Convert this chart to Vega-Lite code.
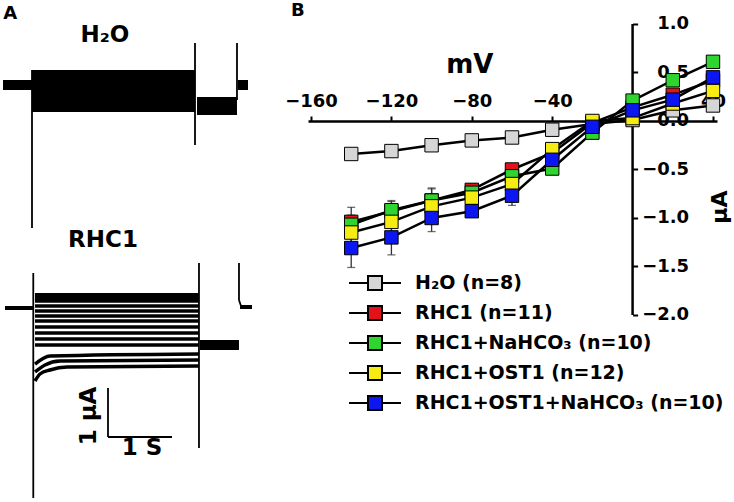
{
  "$schema": "https://vega.github.io/schema/vega-lite/v6.json",
  "padding": 0,
  "autosize": {"type": "pad"},
  "bounds": "flush",
  "spacing": 48,
  "background": "white",
  "config": {
    "view": {"stroke": null},
    "font": "DejaVu Sans",
    "text": {"font": "DejaVu Sans", "fontWeight": "bold", "color": "black", "fill": "black"}
  },
  "datasets": {
    "iv": [
      {"mV": -140, "I": -0.34, "se": 0.0, "s": "H₂O (n=8)", "k": 1},
      {"mV": -120, "I": -0.31, "se": 0.0, "s": "H₂O (n=8)", "k": 1},
      {"mV": -100, "I": -0.25, "se": 0.0, "s": "H₂O (n=8)", "k": 1},
      {"mV": -80, "I": -0.2, "se": 0.0, "s": "H₂O (n=8)", "k": 1},
      {"mV": -60, "I": -0.17, "se": 0.0, "s": "H₂O (n=8)", "k": 1},
      {"mV": -40, "I": -0.09, "se": 0.0, "s": "H₂O (n=8)", "k": 1},
      {"mV": -20, "I": -0.03, "se": 0.0, "s": "H₂O (n=8)", "k": 1},
      {"mV": 0, "I": 0.01, "se": 0.0, "s": "H₂O (n=8)", "k": 1},
      {"mV": 20, "I": 0.11, "se": 0.02, "s": "H₂O (n=8)", "k": 1},
      {"mV": 40, "I": 0.16, "se": 0.02, "s": "H₂O (n=8)", "k": 1},
      {"mV": -140, "I": -1.04, "se": 0.15, "s": "RHC1 (n=11)", "k": 2},
      {"mV": -120, "I": -0.93, "se": 0.1, "s": "RHC1 (n=11)", "k": 2},
      {"mV": -100, "I": -0.82, "se": 0.12, "s": "RHC1 (n=11)", "k": 2},
      {"mV": -80, "I": -0.71, "se": 0.06, "s": "RHC1 (n=11)", "k": 2},
      {"mV": -60, "I": -0.5, "se": 0.04, "s": "RHC1 (n=11)", "k": 2},
      {"mV": -40, "I": -0.33, "se": 0.04, "s": "RHC1 (n=11)", "k": 2},
      {"mV": -20, "I": -0.02, "se": 0.03, "s": "RHC1 (n=11)", "k": 2},
      {"mV": 0, "I": 0.14, "se": 0.03, "s": "RHC1 (n=11)", "k": 2},
      {"mV": 20, "I": 0.27, "se": 0.03, "s": "RHC1 (n=11)", "k": 2},
      {"mV": 40, "I": 0.42, "se": 0.04, "s": "RHC1 (n=11)", "k": 2},
      {"mV": -140, "I": -1.07, "se": 0.1, "s": "RHC1+NaHCO₃ (n=10)", "k": 3},
      {"mV": -120, "I": -0.92, "se": 0.1, "s": "RHC1+NaHCO₃ (n=10)", "k": 3},
      {"mV": -100, "I": -0.82, "se": 0.13, "s": "RHC1+NaHCO₃ (n=10)", "k": 3},
      {"mV": -80, "I": -0.74, "se": 0.07, "s": "RHC1+NaHCO₃ (n=10)", "k": 3},
      {"mV": -60, "I": -0.57, "se": 0.05, "s": "RHC1+NaHCO₃ (n=10)", "k": 3},
      {"mV": -40, "I": -0.49, "se": 0.04, "s": "RHC1+NaHCO₃ (n=10)", "k": 3},
      {"mV": -20, "I": -0.12, "se": 0.03, "s": "RHC1+NaHCO₃ (n=10)", "k": 3},
      {"mV": 0, "I": 0.21, "se": 0.03, "s": "RHC1+NaHCO₃ (n=10)", "k": 3},
      {"mV": 20, "I": 0.42, "se": 0.03, "s": "RHC1+NaHCO₃ (n=10)", "k": 3},
      {"mV": 40, "I": 0.61, "se": 0.04, "s": "RHC1+NaHCO₃ (n=10)", "k": 3},
      {"mV": -140, "I": -1.15, "se": 0.12, "s": "RHC1+OST1 (n=12)", "k": 4},
      {"mV": -120, "I": -1.04, "se": 0.1, "s": "RHC1+OST1 (n=12)", "k": 4},
      {"mV": -100, "I": -0.88, "se": 0.1, "s": "RHC1+OST1 (n=12)", "k": 4},
      {"mV": -80, "I": -0.79, "se": 0.07, "s": "RHC1+OST1 (n=12)", "k": 4},
      {"mV": -60, "I": -0.65, "se": 0.05, "s": "RHC1+OST1 (n=12)", "k": 4},
      {"mV": -40, "I": -0.29, "se": 0.05, "s": "RHC1+OST1 (n=12)", "k": 4},
      {"mV": -20, "I": 0.0, "se": 0.03, "s": "RHC1+OST1 (n=12)", "k": 4},
      {"mV": 0, "I": 0.03, "se": 0.03, "s": "RHC1+OST1 (n=12)", "k": 4},
      {"mV": 20, "I": 0.18, "se": 0.03, "s": "RHC1+OST1 (n=12)", "k": 4},
      {"mV": 40, "I": 0.31, "se": 0.04, "s": "RHC1+OST1 (n=12)", "k": 4},
      {"mV": -140, "I": -1.31, "se": 0.2, "s": "RHC1+OST1+NaHCO₃ (n=10)", "k": 5},
      {"mV": -120, "I": -1.2, "se": 0.18, "s": "RHC1+OST1+NaHCO₃ (n=10)", "k": 5},
      {"mV": -100, "I": -1.0, "se": 0.14, "s": "RHC1+OST1+NaHCO₃ (n=10)", "k": 5},
      {"mV": -80, "I": -0.93, "se": 0.06, "s": "RHC1+OST1+NaHCO₃ (n=10)", "k": 5},
      {"mV": -60, "I": -0.77, "se": 0.1, "s": "RHC1+OST1+NaHCO₃ (n=10)", "k": 5},
      {"mV": -40, "I": -0.4, "se": 0.06, "s": "RHC1+OST1+NaHCO₃ (n=10)", "k": 5},
      {"mV": -20, "I": -0.06, "se": 0.03, "s": "RHC1+OST1+NaHCO₃ (n=10)", "k": 5},
      {"mV": 0, "I": 0.11, "se": 0.03, "s": "RHC1+OST1+NaHCO₃ (n=10)", "k": 5},
      {"mV": 20, "I": 0.22, "se": 0.03, "s": "RHC1+OST1+NaHCO₃ (n=10)", "k": 5},
      {"mV": 40, "I": 0.45, "se": 0.04, "s": "RHC1+OST1+NaHCO₃ (n=10)", "k": 5}
    ],
    "bands": [
      {"t1": 0.047, "t2": 0.5, "I1": 0.102, "I2": -0.102},
      {"t1": 0.5, "t2": 3.047, "I1": 0.306, "I2": -0.551},
      {"t1": 3.078, "t2": 3.703, "I1": -0.245, "I2": -0.612},
      {"t1": 3.719, "t2": 3.875, "I1": 0.102, "I2": -0.102},
      {"t1": 0.078, "t2": 0.516, "I1": -4.51, "I2": -4.592},
      {"t1": 0.547, "t2": 3.109, "I1": -4.245, "I2": -4.43},
      {"t1": 3.125, "t2": 3.734, "I1": -5.204, "I2": -5.408},
      {"t1": 3.75, "t2": 3.9375, "I1": -4.49, "I2": -4.571}
    ],
    "rules": [
      {"t1": 0.5, "t2": 0.5, "I1": 0.306, "I2": -2.918},
      {"t1": 3.047, "t2": 3.047, "I1": 0.857, "I2": -1.224},
      {"t1": 3.703, "t2": 3.703, "I1": 0.857, "I2": -0.306},
      {"t1": 0.52, "t2": 0.52, "I1": -3.837, "I2": -8.429},
      {"t1": 3.109, "t2": 3.109, "I1": -3.633, "I2": -7.408},
      {"t1": 3.734, "t2": 3.734, "I1": -3.633, "I2": -4.388},
      {"t1": 3.734, "t2": 3.766, "I1": -4.388, "I2": -4.51},
      {"t1": 1.6875, "t2": 1.6875, "I1": -6.184, "I2": -7.184},
      {"t1": 1.6875, "t2": 2.6875, "I1": -7.184, "I2": -7.184}
    ],
    "traces": [
      {"k": 1, "t": 0.547, "I": -4.327}, {"k": 1, "t": 3.109, "I": -4.327},
      {"k": 2, "t": 0.547, "I": -4.408}, {"k": 2, "t": 3.109, "I": -4.408},
      {"k": 3, "t": 0.547, "I": -4.51}, {"k": 3, "t": 3.109, "I": -4.51},
      {"k": 4, "t": 0.547, "I": -4.612}, {"k": 4, "t": 3.109, "I": -4.612},
      {"k": 5, "t": 0.547, "I": -4.714}, {"k": 5, "t": 3.109, "I": -4.714},
      {"k": 6, "t": 0.547, "I": -4.816}, {"k": 6, "t": 3.109, "I": -4.816},
      {"k": 7, "t": 0.547, "I": -4.939}, {"k": 7, "t": 3.109, "I": -4.939},
      {"k": 8, "t": 0.547, "I": -5.061}, {"k": 8, "t": 3.109, "I": -5.061},
      {"k": 9, "t": 0.547, "I": -5.184}, {"k": 9, "t": 3.109, "I": -5.184},
      {"k": 10, "t": 0.547, "I": -5.306}, {"k": 10, "t": 3.109, "I": -5.306},
      {"k": 11, "t": 0.547, "I": -5.694}, {"k": 11, "t": 0.781, "I": -5.531}, {"k": 11, "t": 3.109, "I": -5.49},
      {"k": 12, "t": 0.547, "I": -5.857}, {"k": 12, "t": 0.703, "I": -5.714}, {"k": 12, "t": 0.9375, "I": -5.633}, {"k": 12, "t": 3.109, "I": -5.612},
      {"k": 13, "t": 0.547, "I": -6.041}, {"k": 13, "t": 0.625, "I": -5.898}, {"k": 13, "t": 0.781, "I": -5.816}, {"k": 13, "t": 1.047, "I": -5.755}, {"k": 13, "t": 3.109, "I": -5.735}
    ],
    "alabels": [
      {"t": 0.16, "I": 1.45, "txt": "A", "kind": "panel"},
      {"t": 1.64, "I": 1.02, "txt": "H₂O", "kind": "big"},
      {"t": 1.61, "I": -3.163, "txt": "RHC1", "kind": "big"},
      {"t": 2.22, "I": -7.408, "txt": "1 S", "kind": "big"},
      {"t": 1.39, "I": -6.755, "txt": "1 µA", "kind": "rot"}
    ],
    "blabels": [
      {"mV": -166.5, "I": 1.13, "txt": "B", "kind": "panel"},
      {"mV": -81, "I": 0.577, "txt": "mV", "kind": "title"},
      {"mV": 43.5, "I": -0.887, "txt": "µA", "kind": "rot"}
    ],
    "yaxis": [
      {"mV": 0, "I": -2, "I2": 1}
    ]
  },
  "hconcat": [
    {
      "width": 260,
      "height": 502,
      "layer": [
        {
          "data": {"name": "bands"},
          "mark": {"type": "rect", "color": "black"},
          "encoding": {
            "x": {"field": "t1", "type": "quantitative", "scale": {"domain": [0, 4.0625], "nice": false, "zero": false}, "axis": null},
            "x2": {"field": "t2"},
            "y": {"field": "I1", "type": "quantitative", "scale": {"domain": [-8.5102, 1.7347], "nice": false, "zero": false}, "axis": null},
            "y2": {"field": "I2"}
          }
        },
        {
          "data": {"name": "rules"},
          "mark": {"type": "rule", "color": "black", "strokeWidth": 1.8},
          "encoding": {
            "x": {"field": "t1", "type": "quantitative", "axis": null},
            "x2": {"field": "t2"},
            "y": {"field": "I1", "type": "quantitative", "axis": null},
            "y2": {"field": "I2"}
          }
        },
        {
          "data": {"name": "traces"},
          "mark": {"type": "line", "color": "black", "strokeWidth": 3.5, "interpolate": "monotone"},
          "encoding": {
            "x": {"field": "t", "type": "quantitative", "axis": null},
            "y": {"field": "I", "type": "quantitative", "axis": null},
            "detail": {"field": "k", "type": "nominal"}
          }
        },
        {
          "data": {"name": "alabels"},
          "transform": [{"filter": "datum.kind === 'big'"}],
          "mark": {"type": "text", "fontSize": 23, "fontWeight": "bold", "align": "center", "baseline": "middle", "color": "black"},
          "encoding": {
            "x": {"field": "t", "type": "quantitative", "axis": null},
            "y": {"field": "I", "type": "quantitative", "axis": null},
            "text": {"field": "txt"}
          }
        },
        {
          "data": {"name": "alabels"},
          "transform": [{"filter": "datum.kind === 'rot'"}],
          "mark": {"type": "text", "fontSize": 23, "fontWeight": "bold", "align": "center", "baseline": "middle", "angle": 270, "color": "black"},
          "encoding": {
            "x": {"field": "t", "type": "quantitative", "axis": null},
            "y": {"field": "I", "type": "quantitative", "axis": null},
            "text": {"field": "txt"}
          }
        },
        {
          "data": {"name": "alabels"},
          "transform": [{"filter": "datum.kind === 'panel'"}],
          "mark": {"type": "text", "fontSize": 18, "fontWeight": "bold", "align": "center", "baseline": "middle", "color": "black"},
          "encoding": {
            "x": {"field": "t", "type": "quantitative", "axis": null},
            "y": {"field": "I", "type": "quantitative", "axis": null},
            "text": {"field": "txt"}
          }
        }
      ]
    },
    {
      "width": 409,
      "height": 430,
      "layer": [
        {
          "data": {"name": "yaxis"},
          "mark": {"type": "rule", "color": "black", "strokeWidth": 2.5},
          "encoding": {
            "x": {"field": "mV", "type": "quantitative", "scale": {"domain": [-161.5, 42], "nice": false, "zero": false}},
            "y": {"field": "I", "type": "quantitative", "scale": {"domain": [-3.1856, 1.2474], "nice": false, "zero": false}},
            "y2": {"field": "I2"}
          }
        },
        {
          "data": {"name": "iv"},
          "mark": {"type": "errorbar", "ticks": {"size": 8}, "color": "#333", "thickness": 1.3},
          "encoding": {
            "x": {"field": "mV", "type": "quantitative"},
            "y": {"field": "I", "type": "quantitative"},
            "yError": {"field": "se"}
          }
        },
        {
          "data": {"name": "iv"},
          "mark": {"type": "line", "color": "black", "strokeWidth": 2.5},
          "encoding": {
            "x": {"field": "mV", "type": "quantitative",
              "axis": {"orient": "top", "offset": -121, "values": [-160, -120, -80, -40, 0, 40], "title": null,
                "domainColor": "black", "domainWidth": 2.5, "tickColor": "black", "tickWidth": 2, "tickSize": 5,
                "labelFont": "DejaVu Sans", "labelFontWeight": "bold", "labelFontSize": 18, "labelColor": "black",
                "labelPadding": 6, "labelFlush": false, "labelOverlap": false, "grid": false}},
            "y": {"field": "I", "type": "quantitative",
              "axis": {"orient": "right", "offset": -84.4, "values": [-2, -1.5, -1, -0.5, 0, 0.5, 1], "format": ".1f", "title": null,
                "domain": false, "tickColor": "black", "tickWidth": 2, "tickSize": 5,
                "labelFont": "DejaVu Sans", "labelFontWeight": "bold", "labelFontSize": 18, "labelColor": "black",
                "labelAlign": "right", "labelPadding": 51, "labelFlush": false, "labelOverlap": false, "grid": false}},
            "detail": {"field": "s", "type": "nominal"},
            "order": {"field": "mV", "type": "quantitative"}
          }
        },
        {
          "data": {"name": "iv"},
          "mark": {"type": "point", "shape": "square", "filled": true, "size": 180, "stroke": "black", "strokeWidth": 1, "opacity": 1},
          "encoding": {
            "x": {"field": "mV", "type": "quantitative"},
            "y": {"field": "I", "type": "quantitative"},
            "order": {"field": "k", "type": "quantitative"},
            "color": {"field": "s", "type": "nominal",
              "scale": {"domain": ["H₂O (n=8)", "RHC1 (n=11)", "RHC1+NaHCO₃ (n=10)", "RHC1+OST1 (n=12)", "RHC1+OST1+NaHCO₃ (n=10)"],
                "range": ["#d6d6d6", "#e3121a", "#2fd42f", "#f7ec12", "#0c16f0"]},
              "legend": {"orient": "none", "legendX": 56, "legendY": 272, "title": null,
                "symbolType": "M-2.6,0H-0.7M0.7,0H2.6M-0.7,-0.7H0.7V0.7H-0.7Z", "symbolSize": 400,
                "symbolStrokeColor": "black", "symbolStrokeWidth": 2, "symbolOpacity": 1,
                "labelFont": "DejaVu Sans", "labelFontWeight": "bold", "labelFontSize": 19, "labelColor": "black",
                "labelOffset": 29, "labelLimit": 500, "rowPadding": 8,
                "encode": {"symbols": {"update": {"stroke": {"value": "black"}, "strokeWidth": {"value": 2}}}}}}
          }
        },
        {
          "data": {"name": "blabels"},
          "transform": [{"filter": "datum.kind === 'panel'"}],
          "mark": {"type": "text", "fontSize": 18, "fontWeight": "bold", "align": "center", "baseline": "middle", "color": "black"},
          "encoding": {"x": {"field": "mV", "type": "quantitative"}, "y": {"field": "I", "type": "quantitative"}, "text": {"field": "txt"}}
        },
        {
          "data": {"name": "blabels"},
          "transform": [{"filter": "datum.kind === 'title'"}],
          "mark": {"type": "text", "fontSize": 26, "fontWeight": "bold", "align": "center", "baseline": "middle", "color": "black"},
          "encoding": {"x": {"field": "mV", "type": "quantitative"}, "y": {"field": "I", "type": "quantitative"}, "text": {"field": "txt"}}
        },
        {
          "data": {"name": "blabels"},
          "transform": [{"filter": "datum.kind === 'rot'"}],
          "mark": {"type": "text", "fontSize": 22, "fontWeight": "bold", "align": "center", "baseline": "middle", "angle": 270, "color": "black"},
          "encoding": {"x": {"field": "mV", "type": "quantitative"}, "y": {"field": "I", "type": "quantitative"}, "text": {"field": "txt"}}
        }
      ],
      "resolve": {"scale": {"color": "independent"}}
    }
  ],
  "resolve": {"scale": {"x": "independent", "y": "independent", "color": "independent"}, "legend": {"color": "independent"}}
}
